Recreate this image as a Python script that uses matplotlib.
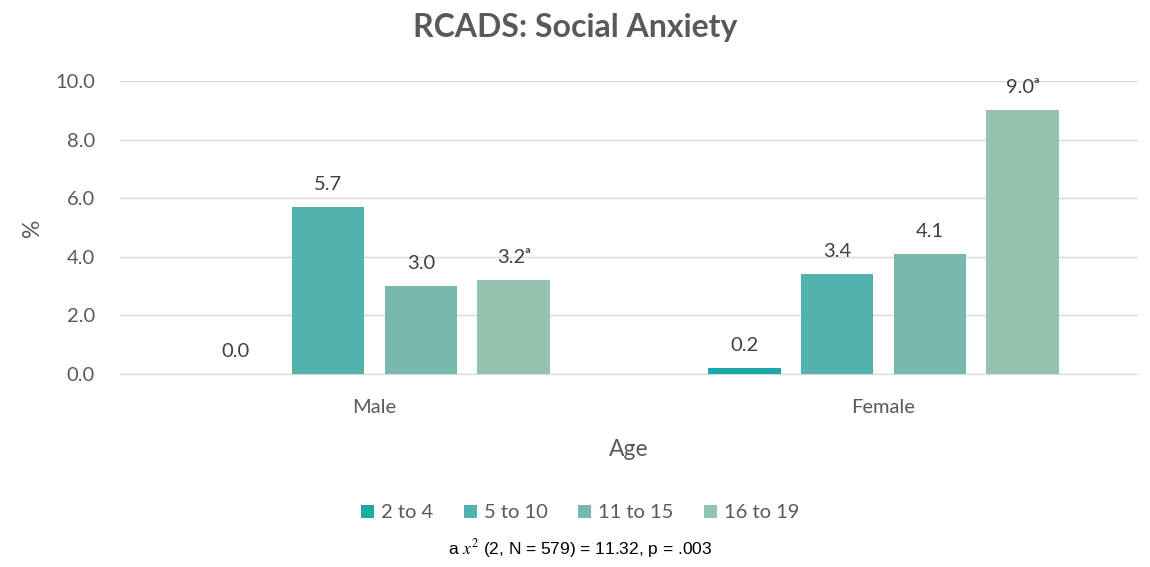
import matplotlib
matplotlib.use("Agg")
import matplotlib.pyplot as plt
import numpy as np

plt.rcParams['font.family'] = ['Lato', 'DejaVu Sans']
plt.rcParams['mathtext.fontset'] = 'stix'

groups = ["Male", "Female"]
series = ["2 to 4", "5 to 10", "11 to 15", "16 to 19"]
values = {
    "2 to 4": [0.0, 0.2],
    "5 to 10": [5.7, 3.4],
    "11 to 15": [3.0, 4.1],
    "16 to 19": [3.2, 9.0],
}
labels = {
    "2 to 4": ["0.0", "0.2"],
    "5 to 10": ["5.7", "3.4"],
    "11 to 15": ["3.0", "4.1"],
    "16 to 19": ["3.2\u1d43", "9.0\u1d43"],
}
colors = ["#1EA9A9", "#53B1AE", "#79B9AD", "#92C4B0"]
yticks = [0, 2, 4, 6, 8, 10]
title = "RCADS: Social Anxiety"
footnote = r"a $\mathit{x}^2$ (2, N = 579) = 11.32, p = .003"

grey = "#595959"
fig = plt.figure(figsize=(11.5, 5.67), dpi=100)
ax = fig.add_axes([120/1150, 1-374/567, (1138-120)/1150, (374-81)/567])

x = np.arange(len(groups))
step = 0.1827
width = 0.1434
for i, s in enumerate(series):
    pos = x + (i - 1.5) * step
    bars = ax.bar(pos, values[s], width=width, color=colors[i], label=s, zorder=3)
    for b, lab in zip(bars, labels[s]):
        ax.annotate(lab, (b.get_x() + b.get_width()/2, b.get_height()),
                    xytext=(0, 10), textcoords="offset points",
                    ha="center", va="bottom", fontsize=14.5, color="#404040")

ax.set_xlim(-0.5, 1.5)
ax.set_ylim(0, 10)
ax.set_yticks(yticks)
ax.set_yticklabels([f"{v:.1f}" for v in yticks])
ax.set_xticks(x)
ax.set_xticklabels(groups)
ax.tick_params(axis='both', length=0, labelsize=14.5, colors=grey)
ax.tick_params(axis='y', pad=18)
ax.tick_params(axis='x', pad=18)
ax.grid(axis='y', color="#d9d9d9", linewidth=1, zorder=0)
for sp in ["top", "right", "left"]:
    ax.spines[sp].set_visible(False)
ax.spines["bottom"].set_color("#d9d9d9")
ax.set_axisbelow(True)

ax.set_xlabel("Age", fontsize=16.5, color=grey)
ax.xaxis.set_label_coords(0.5, -(449-374)/293, transform=ax.transAxes)
ax.set_ylabel("%", fontsize=16.5, color=grey)
ax.yaxis.set_label_coords(-(120-32)/1018, (374-228)/293, transform=ax.transAxes)
ax.xaxis.label.set_va("center")
ax.yaxis.label.set_va("center")

fig.text(0.5, 1-27/567, title, ha="center", va="center", fontsize=23,
         fontweight="bold", color=grey)

fig.legend(loc="center", bbox_to_anchor=(580/1150, 1-513/567), ncol=4,
           frameon=False, fontsize=14.5, handlelength=0.65, handleheight=0.65,
           handletextpad=0.35, columnspacing=1.5, labelcolor=grey)

fig.text(580/1150, 1-549/567, footnote, ha="center", va="center", fontsize=12.5,
         color="black", family="Liberation Sans")

fig.savefig("out.png", dpi=100)
